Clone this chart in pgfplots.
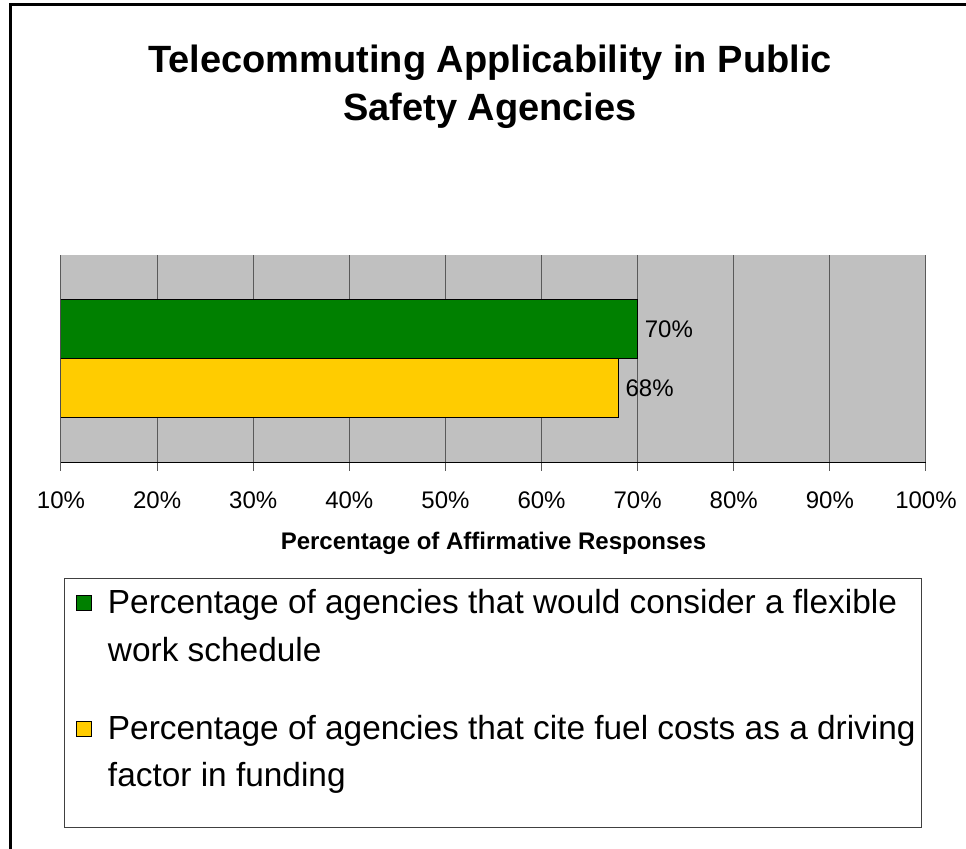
\documentclass[border=0pt]{standalone}
\usepackage{pgfplots}
\pgfplotsset{compat=1.18}
\usepackage{fontspec}
\setmainfont{Liberation Sans}
\definecolor{barGreen}{HTML}{008000}
\definecolor{barYellow}{HTML}{FFCC00}
\definecolor{plotGray}{HTML}{C0C0C0}
\definecolor{gridGray}{HTML}{5A5A5A}
% legend square set on the text baseline, then the gap to the text
\newcommand{\legsq}[1]{\tikz[baseline=0pt]\draw[fill=#1,draw=black,line width=0.5pt] (0pt,1.5pt) rectangle (7.5pt,9pt);\hspace{8pt}}
% fixed row height for legend lines
\newcommand{\rowh}[1]{\rule[-6pt]{0pt}{\dimexpr #1+6pt\relax}}

\begin{document}
\begin{tikzpicture}
\path[use as bounding box] (0,0) rectangle (483pt,424.5pt);
% outer chart frame
\draw[line width=1.5pt] (5pt,0) -- (5pt,422pt) -- (483pt,422pt);
% title
\node[font=\bfseries\fontsize{19}{23}\selectfont, anchor=base] at (245pt,388pt) {Telecommuting Applicability in Public};
\node[font=\bfseries\fontsize{19}{23}\selectfont, anchor=base] at (245pt,364pt) {Safety Agencies};
% legend frame
\draw[black!75, line width=0.5pt] (32pt,10.5pt) rectangle (460.5pt,135pt);

\begin{axis}[
    at={(30.5pt,193pt)}, anchor=south west,
    scale only axis, width=432.5pt, height=104pt,
    xbar, bar width=1,
    xmin=10, xmax=100,
    ymin=-1.763, ymax=1.763,
    axis background/.style={fill=plotGray},
    axis line style={draw=none},
    xtick={10,20,...,100},
    ytick=\empty,
    xtick pos=bottom, tick align=outside, major tick length=4pt,
    tick style={gridGray, line width=0.5pt},
    xmajorgrids, major grid style={gridGray, line width=0.5pt},
    /pgf/number format/assume math mode=true,
    xticklabel={\pgfmathprintnumber{\tick}\%},
    ticklabel style={font=\fontsize{12}{14}\selectfont},
    xticklabel style={yshift=-7pt},
    xlabel={\bfseries Percentage of Affirmative Responses},
    xlabel style={font=\fontsize{12}{14}\selectfont, anchor=center, at={(axis description cs:0.5,-0.385)}},
    point meta=x,
    nodes near coords={\pgfmathprintnumber{\pgfplotspointmeta}\%},
    nodes near coords style={font=\fontsize{12}{14}\selectfont, anchor=west},
    legend style={draw=none, fill=none, inner sep=0pt, outer sep=0pt,
        at={(axis description cs:0.0173,-0.568)}, anchor=north west,
        font=\fontsize{16.7}{20}\selectfont,
        nodes={inner sep=0pt}, row sep=0pt, column sep=0pt},
    legend cell align=left,
    extra description/.code={\draw[black, line width=0.5pt] (0,0) -- (1,0);},
]
\addplot[fill=barGreen, draw=black, line width=0.5pt, bar shift=0pt, forget plot]
    coordinates {(70,0.5)};
\addplot[fill=barYellow, draw=black, line width=0.5pt, bar shift=0pt, forget plot]
    coordinates {(68,-0.5)};

\addlegendimage{empty legend}
\addlegendentry{\rowh{16pt}\legsq{barGreen}Percentage of agencies that would consider a flexible}
\addlegendimage{empty legend}
\addlegendentry{\rowh{22.5pt}\hphantom{\legsq{barGreen}}work schedule}
\addlegendimage{empty legend}
\addlegendentry{\rowh{37.5pt}\legsq{barYellow}Percentage of agencies that cite fuel costs as a driving}
\addlegendimage{empty legend}
\addlegendentry{\rowh{22pt}\hphantom{\legsq{barYellow}}factor in funding}
\end{axis}
\end{tikzpicture}
\end{document}
